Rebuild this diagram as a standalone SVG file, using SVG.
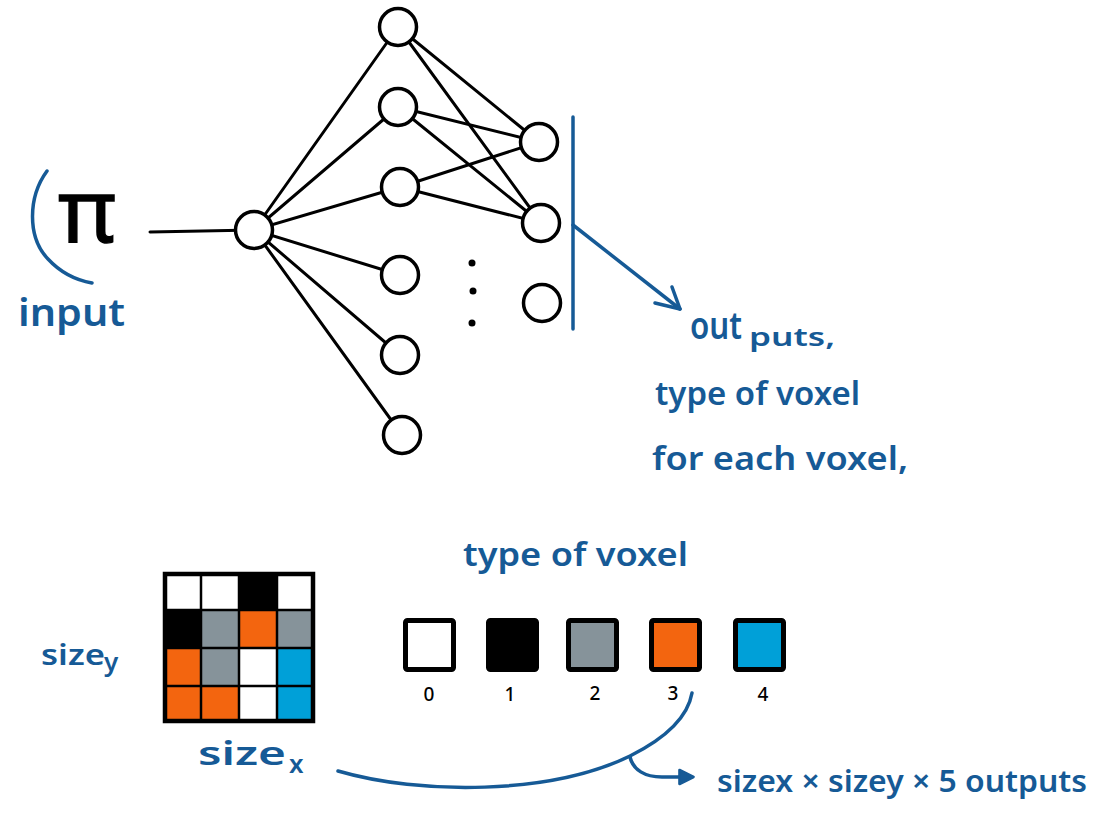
<svg xmlns="http://www.w3.org/2000/svg" width="1097" height="816" viewBox="0 0 1097 816">
  <style>
    .edge { stroke: #000; stroke-width: 3; fill: none; stroke-linecap: round; }
    .node { fill: #fff; stroke: #000; stroke-width: 3.5; }
    .ink { stroke: #165a96; stroke-width: 3.5; fill: none; stroke-linecap: round; stroke-linejoin: round; }
    .hand { font-family: "Noto Sans", "Open Sans", sans-serif; font-weight: 600; fill: #165a96; }
    .num { font-family: "Noto Sans", "Open Sans", sans-serif; font-weight: 500; fill: #000; font-size: 19px; text-anchor: middle; }
    .swatch { stroke: #000; stroke-width: 5; }
    .cellline { stroke: #000; stroke-width: 2.5; }
  </style>
  <defs>
    <marker id="head" viewBox="0 0 10 10" refX="7" refY="5" markerWidth="5" markerHeight="5" orient="auto">
      <path d="M1,1 L9,5 L1,9 Z" fill="#165a96" stroke="#165a96" stroke-width="1.5" stroke-linejoin="round"/>
    </marker>
  </defs>

  <!-- input bracket and pi symbol -->
  <g id="input">
    <path class="ink" stroke-width="4.5" d="M47,171 C28,197 27,237 48,259 C60,272 75,280 92,283"/>
    <text x="58" y="242" font-family="Noto Sans, DejaVu Sans, sans-serif" font-size="88" fill="#000" stroke="#000" stroke-width="1.5" textLength="58" lengthAdjust="spacingAndGlyphs">π</text>
    <text class="hand" x="18" y="326" font-size="38" textLength="107" lengthAdjust="spacingAndGlyphs">input</text>
  </g>

  <!-- network connections -->
  <g id="connectors">
    <line class="edge" x1="150" y1="232" x2="254" y2="230"/>
    <line class="edge" x1="254" y1="230" x2="398" y2="27"/>
    <line class="edge" x1="254" y1="230" x2="398" y2="107"/>
    <line class="edge" x1="254" y1="230" x2="400" y2="187"/>
    <line class="edge" x1="254" y1="230" x2="400" y2="275"/>
    <line class="edge" x1="254" y1="230" x2="400" y2="355"/>
    <line class="edge" x1="254" y1="230" x2="402" y2="435"/>
    <line class="edge" x1="398" y1="27" x2="539" y2="142"/>
    <line class="edge" x1="398" y1="27" x2="541" y2="223"/>
    <line class="edge" x1="398" y1="107" x2="539" y2="142"/>
    <line class="edge" x1="398" y1="107" x2="541" y2="223"/>
    <line class="edge" x1="400" y1="187" x2="539" y2="142"/>
    <line class="edge" x1="400" y1="187" x2="541" y2="223"/>
  </g>

  <!-- neurons -->
  <g id="n-in"><circle class="node" cx="254" cy="230" r="18.5"/></g>
  <g id="n-h1"><circle class="node" cx="398" cy="27" r="18.5"/></g>
  <g id="n-h2"><circle class="node" cx="398" cy="107" r="18.5"/></g>
  <g id="n-h3"><circle class="node" cx="400" cy="187" r="18.5"/></g>
  <g id="n-h4"><circle class="node" cx="400" cy="275" r="18.5"/></g>
  <g id="n-h5"><circle class="node" cx="400" cy="355" r="18.5"/></g>
  <g id="n-h6"><circle class="node" cx="402" cy="435" r="18.5"/></g>
  <g id="n-o1"><circle class="node" cx="539" cy="142" r="18.5"/></g>
  <g id="n-o2"><circle class="node" cx="541" cy="223" r="18.5"/></g>
  <g id="n-o3"><circle class="node" cx="542" cy="303" r="18.5"/></g>
  <g id="ellipsis">
    <circle cx="472" cy="263" r="3.5" fill="#000"/>
    <circle cx="473" cy="291" r="3.5" fill="#000"/>
    <circle cx="472" cy="323" r="3.5" fill="#000"/>
  </g>

  <!-- output bracket with arrow -->
  <g id="outputs">
    <line class="ink" x1="573" y1="117" x2="573" y2="329"/>
    <line class="ink" x1="573" y1="225" x2="680" y2="309"/>
    <polyline class="ink" points="655,303 680,309 672,287"/>
    <text class="hand" x="690" y="339" font-size="37" textLength="52" lengthAdjust="spacingAndGlyphs">out</text>
    <text class="hand" x="749" y="346" font-size="25" textLength="86" lengthAdjust="spacingAndGlyphs">puts,</text>
    <text class="hand" x="655" y="405" font-size="32" textLength="205" lengthAdjust="spacingAndGlyphs">type of voxel</text>
    <text class="hand" x="652" y="470" font-size="32" textLength="256" lengthAdjust="spacingAndGlyphs">for each voxel,</text>
  </g>

  <!-- voxel grid -->
  <g id="grid">
    <rect x="163" y="572" width="38" height="38" fill="#fff"/>
    <rect x="201" y="572" width="38" height="38" fill="#fff"/>
    <rect x="239" y="572" width="38" height="38" fill="#000"/>
    <rect x="277" y="572" width="38" height="38" fill="#fff"/>
    <rect x="163" y="610" width="38" height="38" fill="#000"/>
    <rect x="201" y="610" width="38" height="38" fill="#86939a"/>
    <rect x="239" y="610" width="38" height="38" fill="#f3650f"/>
    <rect x="277" y="610" width="38" height="38" fill="#86939a"/>
    <rect x="163" y="648" width="38" height="38" fill="#f3650f"/>
    <rect x="201" y="648" width="38" height="38" fill="#86939a"/>
    <rect x="239" y="648" width="38" height="38" fill="#fff"/>
    <rect x="277" y="648" width="38" height="38" fill="#00a0d8"/>
    <rect x="163" y="686" width="38" height="37" fill="#f3650f"/>
    <rect x="201" y="686" width="38" height="37" fill="#f3650f"/>
    <rect x="239" y="686" width="38" height="37" fill="#fff"/>
    <rect x="277" y="686" width="38" height="37" fill="#00a0d8"/>
    <line class="cellline" x1="201" y1="572" x2="201" y2="723"/>
    <line class="cellline" x1="239" y1="572" x2="239" y2="723"/>
    <line class="cellline" x1="277" y1="572" x2="277" y2="723"/>
    <line class="cellline" x1="163" y1="610" x2="315" y2="610"/>
    <line class="cellline" x1="163" y1="648" x2="315" y2="648"/>
    <line class="cellline" x1="163" y1="686" x2="315" y2="686"/>
    <rect x="165" y="574" width="148" height="147" fill="none" stroke="#000" stroke-width="4.5"/>
    <text class="hand" x="41" y="665" font-size="28" textLength="64" lengthAdjust="spacingAndGlyphs">size</text>
    <text class="hand" x="104" y="671" font-size="26">y</text>
    <text class="hand" x="198" y="765" font-size="32" textLength="88" lengthAdjust="spacingAndGlyphs">size</text>
    <text class="hand" x="289" y="773" font-size="26">x</text>
  </g>

  <!-- voxel type legend -->
  <g id="legend">
    <text class="hand" x="463" y="566" font-size="32" textLength="225" lengthAdjust="spacingAndGlyphs">type of voxel</text>
    <rect class="swatch" x="405.5" y="620.5" width="48" height="49" rx="2" fill="#fff"/>
    <rect class="swatch" x="488.5" y="620.5" width="48" height="49" rx="2" fill="#000"/>
    <rect class="swatch" x="568.5" y="620.5" width="48" height="49" rx="2" fill="#86939a"/>
    <rect class="swatch" x="651.5" y="620.5" width="48" height="49" rx="2" fill="#f3650f"/>
    <rect class="swatch" x="735.5" y="620.5" width="48" height="49" rx="2" fill="#00a0d8"/>
    <text class="num" x="429" y="701">0</text>
    <text class="num" x="510" y="701">1</text>
    <text class="num" x="595" y="700">2</text>
    <text class="num" x="673" y="700">3</text>
    <text class="num" x="763" y="701">4</text>
  </g>

  <!-- total output count -->
  <g id="total">
    <path class="ink" d="M338,771 C420,795 550,795 630,756 C668,737 688,716 692,693"/>
    <path class="ink" d="M630,757 C633,770 645,777 662,777 L690,777" marker-end="url(#head)"/>
    <text class="hand" x="717" y="792" font-size="30" textLength="370" lengthAdjust="spacingAndGlyphs">sizex × sizey × 5 outputs</text>
  </g>
</svg>
